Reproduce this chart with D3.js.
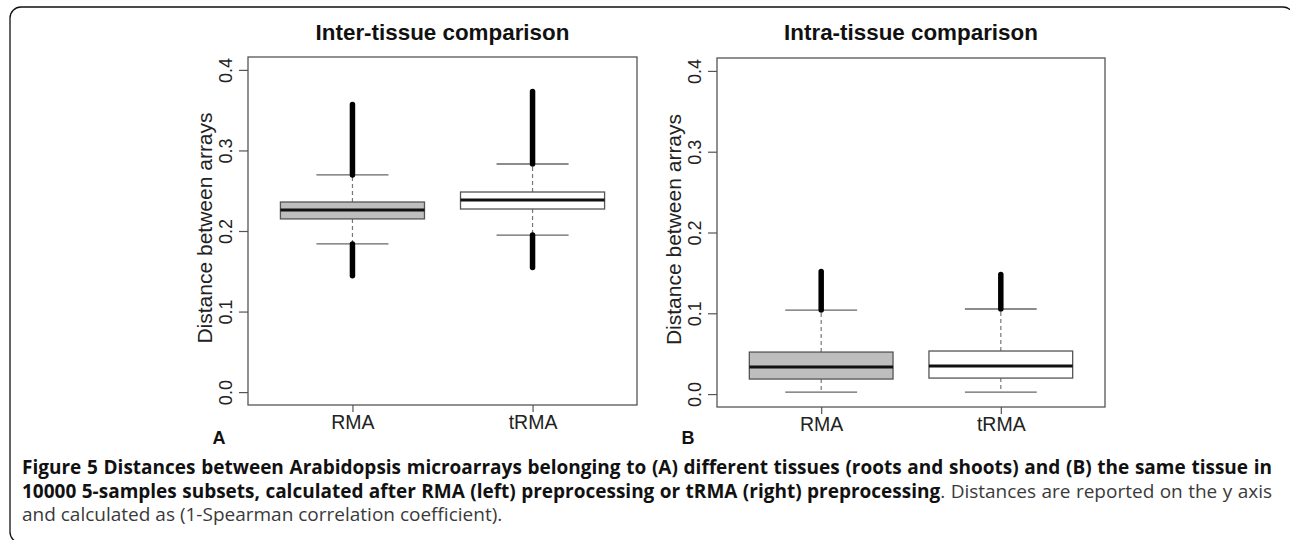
<!DOCTYPE html>
<html>
<head>
<meta charset="utf-8">
<script src="https://cdn.jsdelivr.net/npm/d3@7"></script>
<style>
  body { margin: 0; background: #fff; }
  .wrap { position: relative; width: 1290px; height: 540px; overflow: hidden; }
  svg { position: absolute; left: 0; top: 0; }
  .caption {
    position: absolute; left: 22px; top: 456px; width: 1250px;
    font-family: "Open Sans", sans-serif; font-size: 16px; line-height: 23.5px;
    color: #3a3a3a;
  }
  .caption div { text-align: justify; white-space: nowrap; }
  .caption .j { text-align-last: justify; }
  .caption b { color: #111; font-weight: 700; }
</style>
</head>
<body>
<div class="wrap">
  <svg id="chart" width="1290" height="540"></svg>
  <div class="caption">
    <div class="j"><b id="cap1">Figure 5 Distances between Arabidopsis microarrays belonging to (A) different tissues (roots and shoots) and (B) the same tissue in</b></div>
    <div class="j"><b>10000 5-samples subsets, calculated after RMA (left) preprocessing or tRMA (right) preprocessing</b>. Distances are reported on the y axis</div>
    <div>and calculated as (1-Spearman correlation coefficient).</div>
  </div>
</div>
<script>
"use strict";

// data
const panelTitles = ["Inter-tissue comparison", "Intra-tissue comparison"];
const panelLetters = ["A", "B"];
const methods = ["RMA", "tRMA"];
const yTicks = [0, 0.1, 0.2, 0.3, 0.4];
const yLabel = "Distance between arrays";

// inter-tissue (A)
const interQ1 = [0.215, 0.2273];
const interMedian = [0.2261, 0.2385];
const interQ3 = [0.236, 0.2484];
const interWhiskerLo = [0.1839, 0.195];
const interWhiskerHi = [0.2696, 0.2832];
const interOutlierMin = [0.1445, 0.1547];
const interOutlierMax = [0.357, 0.3733];

// intra-tissue (B)
const intraQ1 = [0.0186, 0.0198];
const intraMedian = [0.0334, 0.0347];
const intraQ3 = [0.052, 0.0533];
const intraWhiskerLo = [0.0025, 0.0025];
const intraWhiskerHi = [0.104, 0.1053];
const intraOutlierMin = [null, null];
const intraOutlierMax = [0.1517, 0.148];

const boxFill = ["#bebebe", "#ffffff"];

const makeBoxes = (q1, med, q3, wlo, whi, omin, omax) =>
  methods.map((m, i) => ({
    method: m, pos: i + 1,
    q1: q1[i], median: med[i], q3: q3[i],
    wlo: wlo[i], whi: whi[i], omin: omin[i], omax: omax[i]
  }));

const panels = [
  { title: panelTitles[0], letter: panelLetters[0],
    boxes: makeBoxes(interQ1, interMedian, interQ3, interWhiskerLo, interWhiskerHi, interOutlierMin, interOutlierMax),
    left: 248, right: 637, top: 57, bottom: 405 },
  { title: panelTitles[1], letter: panelLetters[1],
    boxes: makeBoxes(intraQ1, intraMedian, intraQ3, intraWhiskerLo, intraWhiskerHi, intraOutlierMin, intraOutlierMax),
    left: 717, right: 1105, top: 58, bottom: 407 }
];

const svg = d3.select("#chart");
const axisFont = "'Liberation Sans', Arial, Helvetica, sans-serif";

// outer frame of the figure
svg.append("rect")
  .attr("x", 10).attr("y", 7)
  .attr("width", 1284).attr("height", 536)
  .attr("rx", 11)
  .attr("fill", "none")
  .attr("stroke", "#111")
  .attr("stroke-width", 1.3);

panels.forEach((p) => {
  const g = svg.append("g");

  const x = d3.scaleLinear().domain([0.42, 2.58]).range([p.left, p.right]);
  const y = d3.scaleLinear().domain([-0.016, 0.416]).range([p.bottom, p.top]);
  const halfBox = x(1.4) - x(1);
  const halfCap = halfBox / 2;

  // y axis
  const yAxis = d3.axisLeft(y).tickValues(yTicks).tickSize(9).tickFormat(d3.format(".1f"));
  const ya = g.append("g").attr("transform", `translate(${p.left},0)`).call(yAxis);
  ya.select(".domain").remove();
  ya.selectAll(".tick line").attr("stroke", "#555").attr("stroke-width", 1.2);
  ya.selectAll(".tick text")
    .attr("x", null)
    .attr("transform", "translate(-22,0) rotate(-90)")
    .attr("text-anchor", "middle")
    .attr("dy", "0.36em")
    .attr("fill", "#222")
    .style("font-family", axisFont)
    .style("font-size", "18px");

  // x axis
  const xAxis = d3.axisBottom(x).tickValues([1, 2]).tickSize(7).tickFormat((d) => methods[d - 1]);
  const xa = g.append("g").attr("transform", `translate(0,${p.bottom})`).call(xAxis);
  xa.select(".domain").remove();
  xa.selectAll(".tick line").attr("stroke", "#555").attr("stroke-width", 1.2);
  xa.selectAll(".tick text")
    .attr("y", 24).attr("dy", null)
    .attr("fill", "#222")
    .style("font-family", axisFont)
    .style("font-size", "19.5px");

  // plot frame
  g.append("rect")
    .attr("x", p.left).attr("y", p.top)
    .attr("width", p.right - p.left).attr("height", p.bottom - p.top)
    .attr("fill", "none")
    .attr("stroke", "#555")
    .attr("stroke-width", 1.3);

  // title
  g.append("text")
    .attr("x", (p.left + p.right) / 2).attr("y", 40)
    .attr("text-anchor", "middle")
    .style("font-family", axisFont)
    .style("font-weight", "bold")
    .style("font-size", "22.4px")
    .attr("fill", "#111")
    .text(p.title);

  // y label
  g.append("text")
    .attr("transform", `translate(${p.left - 44},${(p.top + p.bottom) / 2 - 3}) rotate(-90)`)
    .attr("text-anchor", "middle")
    .attr("dy", "0.36em")
    .style("font-family", axisFont)
    .style("font-size", "21px")
    .attr("fill", "#222")
    .text(yLabel);

  // panel letter
  g.append("text")
    .attr("x", p.left - 29).attr("y", 444)
    .attr("text-anchor", "middle")
    .style("font-family", axisFont)
    .style("font-weight", "bold")
    .style("font-size", "18px")
    .attr("fill", "#111")
    .text(p.letter);

  const boxes = g.selectAll(".box").data(p.boxes).enter().append("g").attr("class", "box");

  // dashed whiskers
  boxes.append("line")
    .attr("x1", (d) => x(d.pos)).attr("x2", (d) => x(d.pos))
    .attr("y1", (d) => y(d.q3)).attr("y2", (d) => y(d.whi))
    .attr("stroke", "#777").attr("stroke-width", 1.2).attr("stroke-dasharray", "4,3");
  boxes.append("line")
    .attr("x1", (d) => x(d.pos)).attr("x2", (d) => x(d.pos))
    .attr("y1", (d) => y(d.q1)).attr("y2", (d) => y(d.wlo))
    .attr("stroke", "#777").attr("stroke-width", 1.2).attr("stroke-dasharray", "4,3");

  // whisker caps
  ["whi", "wlo"].forEach((k) => {
    boxes.append("line")
      .attr("x1", (d) => x(d.pos) - halfCap).attr("x2", (d) => x(d.pos) + halfCap)
      .attr("y1", (d) => y(d[k])).attr("y2", (d) => y(d[k]))
      .attr("stroke", "#666").attr("stroke-width", 1.3);
  });

  // boxes
  boxes.append("rect")
    .attr("x", (d) => x(d.pos) - halfBox)
    .attr("width", halfBox * 2)
    .attr("y", (d) => y(d.q3))
    .attr("height", (d) => y(d.q1) - y(d.q3))
    .attr("fill", (d, i) => boxFill[i])
    .attr("stroke", "#555").attr("stroke-width", 1.3);

  // medians
  boxes.append("line")
    .attr("x1", (d) => x(d.pos) - halfBox).attr("x2", (d) => x(d.pos) + halfBox)
    .attr("y1", (d) => y(d.median)).attr("y2", (d) => y(d.median))
    .attr("stroke", "#111").attr("stroke-width", 3);

  // outliers: dense run of open circles, drawn as a thick rounded bar
  boxes.filter((d) => d.omax != null).append("line")
    .attr("x1", (d) => x(d.pos)).attr("x2", (d) => x(d.pos))
    .attr("y1", (d) => y(d.whi)).attr("y2", (d) => y(d.omax))
    .attr("stroke", "#000").attr("stroke-width", 5.5).attr("stroke-linecap", "round");
  boxes.filter((d) => d.omin != null).append("line")
    .attr("x1", (d) => x(d.pos)).attr("x2", (d) => x(d.pos))
    .attr("y1", (d) => y(d.wlo)).attr("y2", (d) => y(d.omin))
    .attr("stroke", "#000").attr("stroke-width", 5.5).attr("stroke-linecap", "round");
});

// size the caption so its bold first line fills the width like the printed figure
const ctx = document.createElement("canvas").getContext("2d");
ctx.font = "700 16px 'Open Sans'";
const natural = ctx.measureText(document.getElementById("cap1").textContent).width;
const fitted = Math.min(19, 16 * 1238 / natural);
document.querySelector(".caption").style.fontSize = fitted + "px";
</script>
</body>
</html>
